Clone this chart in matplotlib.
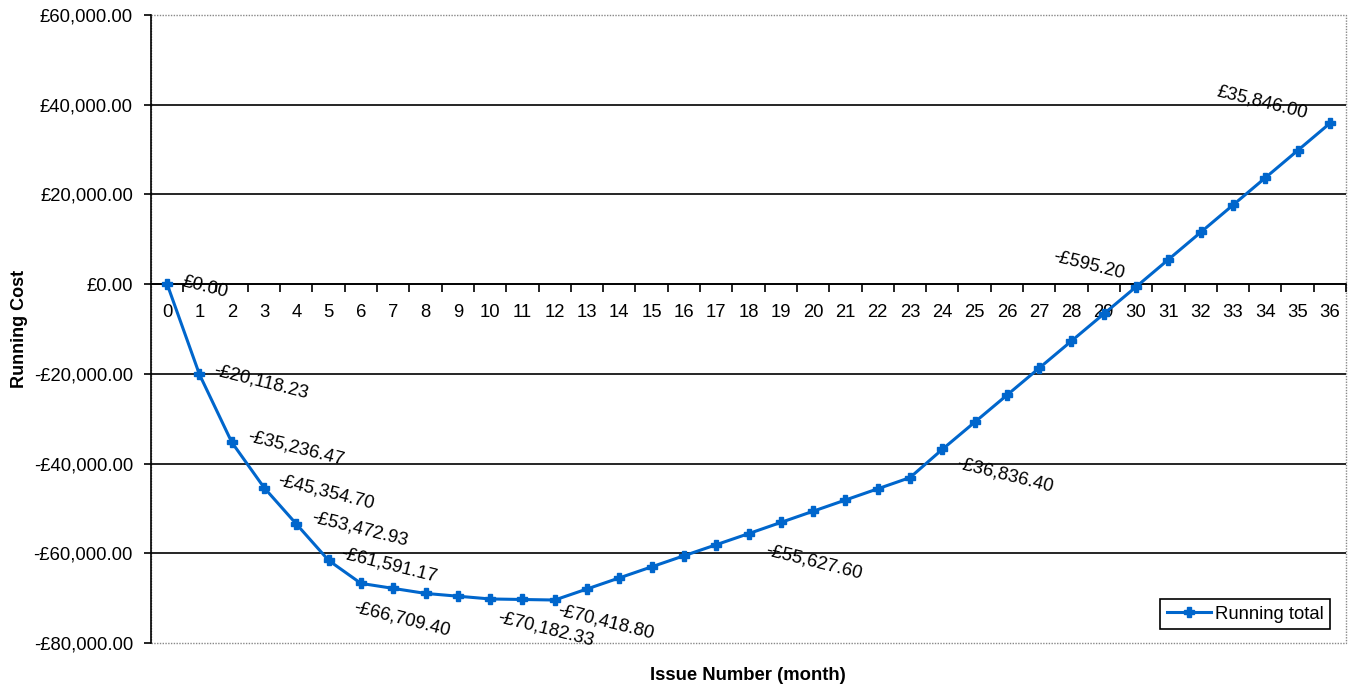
import matplotlib
matplotlib.use('Agg')
import matplotlib.pyplot as plt
from matplotlib.patches import Rectangle
from matplotlib.ticker import FuncFormatter, FixedLocator

plt.rcParams['font.family'] = ['Liberation Sans', 'DejaVu Sans']

# Data
issues = list(range(37))
running_total = [
    0.00, -20118.23, -35236.47, -45354.70, -53472.93, -61591.17, -66709.40,
    -67827.63, -68945.86, -69564.10, -70182.33, -70300.57, -70418.80,
    -67953.60, -65488.40, -63023.20, -60558.00, -58092.80, -55627.60,
    -53127.60, -50627.60, -48127.60, -45627.60, -43127.60, -36836.40,
    -30796.20, -24756.00, -18715.80, -12675.60, -6635.40, -595.20,
    5478.30, 11551.80, 17625.40, 23698.90, 29772.50, 35846.00,
]
labelled = [0, 1, 2, 3, 4, 5, 6, 10, 12, 18, 24, 30, 36]
y_ticks = [-80000, -60000, -40000, -20000, 0, 20000, 40000, 60000]

# label offsets in pixels (right, down) from the point
label_offsets = {
    0: (15, -3), 1: (14, -4), 2: (16, -6), 3: (14, -7), 4: (15, -7),
    5: (12, -7), 6: (-7, 24), 10: (8, 18), 12: (3, 10), 18: (17, 17),
    24: (15, 14), 30: (-83, -30), 36: (-113, -32),
}


def money(v, pos=None):
    if v < 0:
        return f"-£{abs(v):,.2f}"
    return f"£{v:,.2f}"


W, H = 1356, 688
fig = plt.figure(figsize=(W / 100, H / 100), dpi=100)
ax = fig.add_axes([151 / W, 1 - 643 / H, (1346 - 151) / W, (643 - 15) / H])

blue = '#0066CC'
ax.plot(issues, running_total, color=blue, lw=2.2, marker='P', ms=7,
        mec=blue, mfc=blue, label='Running total', zorder=5, clip_on=False)

for i in labelled:
    dx, dy = label_offsets[i]
    ax.annotate(money(running_total[i]), (issues[i], running_total[i]),
                xytext=(dx * 0.72, -dy * 0.72), textcoords='offset points',
                ha='left', va='center', rotation=-14, rotation_mode='anchor',
                fontsize=13.3, color='black', zorder=6)

ax.set_xlim(-0.5, 36.5)
ax.set_ylim(-80000, 60000)

# gridlines (interior only, border is dotted)
for y in y_ticks[1:-1]:
    ax.axhline(y, color='black', lw=1.2, zorder=1)

for s in ['top', 'right']:
    ax.spines[s].set_visible(False)
ax.spines['left'].set_color('black')
ax.spines['left'].set_linewidth(1.2)
ax.spines['bottom'].set_position(('data', 0))
ax.spines['bottom'].set_color('black')
ax.spines['bottom'].set_linewidth(1.2)

ax.add_patch(Rectangle((0, 0), 1, 1, transform=ax.transAxes, fill=False,
                       ec='#888888', lw=1, ls=(0, (1, 1)), clip_on=False, zorder=0))

ax.set_yticks(y_ticks)
ax.yaxis.set_major_formatter(FuncFormatter(money))
ax.tick_params(axis='y', direction='out', length=5, width=1.2, pad=8,
               labelsize=13.3, colors='black')

ax.set_xticks(issues)
ax.set_xticklabels([str(i) for i in issues])
ax.xaxis.set_minor_locator(FixedLocator([i + 0.5 for i in issues[:-1]] + [36.5]))
ax.tick_params(axis='x', which='major', length=0, pad=14, labelsize=13.3, colors='black')
ax.tick_params(axis='x', which='minor', direction='out', length=6, width=1.2, colors='black')

fig.text(20 / W, 1 - 329 / H, 'Running Cost', rotation=90, ha='center', va='center',
         fontsize=13, fontweight='bold')
fig.text(748 / W, 1 - 675 / H, 'Issue Number (month)', ha='center', va='center',
         fontsize=13.3, fontweight='bold')

leg = ax.legend(loc='lower right', bbox_to_anchor=(1330 / W, 1 - 629 / H),
                bbox_transform=fig.transFigure, borderaxespad=0, fontsize=13.3,
                fancybox=False, framealpha=1, edgecolor='black', handlelength=2.4,
                handletextpad=0.2, borderpad=0.35)
leg.get_frame().set_linewidth(1.2)

fig.savefig('out.png', dpi=100)
